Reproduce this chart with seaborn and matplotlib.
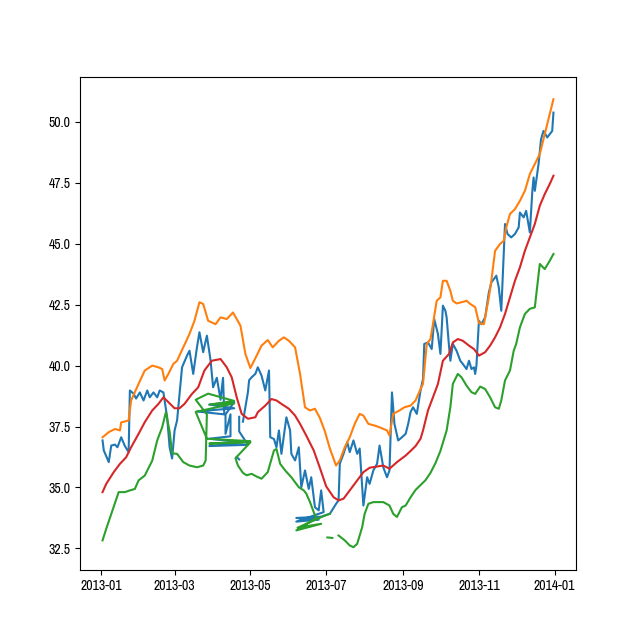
import numpy as np
import pandas as pd
import matplotlib
matplotlib.use("Agg")
import matplotlib.pyplot as plt
import matplotlib.dates as mdates
import seaborn as sns
from matplotlib import font_manager

# ---- font: the reference uses a narrow sans; pick the narrowest installed ----
def _narrow_font():
    rank = {"ultra-condensed": 0, "extra-condensed": 1, "condensed": 2, "semi-condensed": 3}
    best = None
    for f in font_manager.fontManager.ttflist:
        if f.style != "normal":
            continue
        w = f.weight if isinstance(f.weight, int) else 400
        if w not in (400, "normal", "regular") and w != 400:
            continue
        if "Narrow" in f.name:
            r = 0.5
        elif "Condensed" in f.name:
            r = 2
        elif str(f.stretch) in rank:
            r = rank[str(f.stretch)]
        else:
            continue
        if best is None or r < best[0]:
            best = (r, f.fname)
    return best[1] if best else None

_nf = _narrow_font()
tick_font = font_manager.FontProperties(fname=_nf, size=10) if _nf else \
    font_manager.FontProperties(family="DejaVu Sans", size=10)

START = "2013-01-01"

# ---- closing price (days after 2013-01-01, value); NaN marks a gap ----
price_day = [1, 2, 6, 8, 11, 13, 16, 19, 22, 23, 26, 28, 31, 34, 37, 39, 42, 45, 47, 50,
             53, 55, 57, 59, 61, 65, 69, 71, 74, 77, 79, 82, 85, 88, 90, 93, 96, 98, 99,
             77, 107, 87, 107, 100, 100, 104, 104, 87, 114, 87, 118, 111, 111,
             111, 109, 111, 111,
             114, 118, 119, 121, 124, 126, 129, 132, 135, 136, 139, 141, 143, 145, 149, 152,
             153, 156, 159, 161, 164, 167, 169, 172, 175, 177, 179,
             157, 175, 157, 177,
             184, 189, 191, 192, 195, 198, 200, 203, 206, 208, 211, 214, 216, 219, 222, 224,
             227, 230, 232, 234, 236, 239, 242, 245, 247, 249, 251, 254, 257, 259, 260, 263,
             266, 268, 271, 273, 275, 277, 278, 280, 281, 283, 286, 289, 291, 294, 296, 298,
             300, 301, 302, 304, 306, 309, 312, 314, 318, 320, 322, 325, 327, 330, 333, 336,
             337, 340, 342, 345, 347, 348, 349, 352, 354, 356, 359, 362, 363, 364]
price_val = [36.93, 36.52, 36.04, 36.72, 36.76, 36.65, 37.06, 36.70, 36.45, 38.98, 38.85, 38.65,
             38.90, 38.57, 38.98, 38.70, 38.90, 38.70, 38.98, 38.90,
             37.88, 36.65, 36.19, 37.34, 37.75, 39.93, 40.41, 40.61, 39.66, 40.75, 41.37, 40.55,
             41.23, 40.20, 39.11, 39.50, 38.60, 39.50, 38.00,
             38.12, 38.25, 38.40, 38.50, 38.00, 37.20, 38.00, 37.10, 37.00, 36.85, 36.70, 36.75,
             37.30, 37.90,
             np.nan, 36.25, 36.15, np.nan,
             37.70, 38.90, 39.40, 39.52, 39.66, 39.93, 39.59, 38.98, 39.80, 37.06, 36.99, 36.65,
             37.34, 36.38, 37.88, 37.34,
             36.38, 36.11, 36.65, 35.01, 35.70, 34.94, 35.42, 34.19, 34.06, 34.88, 33.99,
             33.60, 33.68, 33.75, 33.80,
             33.92, 34.33, 34.47, 35.97, 36.38, 36.86, 36.45, 36.93, 36.38, 36.60, 34.26, 35.42,
             35.15, 35.70, 35.97, 36.72,
             35.83, 35.42, 35.70, 38.90, 37.61, 36.93, 37.06, 37.20, 37.60, 38.10, 38.29, 38.02,
             38.98, 39.46, 40.89, 40.95,
             40.68, 41.91, 41.30, 40.48, 42.46, 42.25, 41.98, 40.75, 40.20, 40.89, 40.61, 40.20,
             40.07, 39.86, 40.20, 39.86,
             39.93, 39.66, 40.00, 41.84, 41.70, 41.98, 43.00, 43.41, 43.69, 43.21, 42.25, 45.81,
             45.40, 45.26, 45.40, 45.67,
             46.28, 46.08, 46.35, 45.46, 47.17, 47.72, 47.17, 48.27, 49.29, 49.63, 49.36, 49.56,
             49.63, 50.38]

# ---- upper band ----
upper_day = [1, 6, 11, 15, 16, 22, 24, 30, 35, 41, 46, 49, 51, 54, 58, 61, 66, 71, 75, 79,
             82, 86, 92, 96, 101, 106, 112, 116, 120, 124, 129, 134, 138, 143, 147, 151, 156,
             160, 164, 168, 172, 176, 180, 184, 189, 192, 196, 200, 204, 208, 211, 215, 220,
             224, 230, 232, 235, 240, 244, 249, 253, 257, 259, 262, 265, 267, 270, 273, 275,
             278, 281, 283, 286, 290, 294, 297, 301, 304, 308, 312, 314, 317, 321, 324, 326,
             329, 333, 337, 341, 345, 349, 353, 357, 361, 364]
upper_val = [37.06, 37.27, 37.40, 37.34, 37.67, 37.75, 38.57, 39.25, 39.80, 40.00, 39.93,
             39.86, 39.39, 39.66, 40.07, 40.20, 40.75, 41.30, 41.84, 42.60,
             42.53, 41.84, 41.70, 41.98, 41.91, 42.18, 41.64, 40.48, 39.90, 40.30, 40.82, 41.05,
             40.75, 41.02, 41.16, 41.02, 40.75,
             39.66, 38.29, 38.16, 38.23, 37.85, 37.30, 36.60, 35.90, 36.11, 36.65, 37.06, 37.61,
             38.02, 37.95, 37.61, 37.54,
             37.47, 37.34, 37.13, 38.02, 38.16, 38.29, 38.36, 38.57, 39.04, 39.25, 40.89, 41.09,
             41.70, 42.66, 42.80, 43.48,
             43.48, 43.07, 42.66, 42.55, 42.60, 42.66, 42.53, 42.40, 41.75, 41.70, 42.80, 43.48,
             44.71, 44.99, 45.12, 45.67,
             46.22, 46.42, 46.76, 47.17, 47.86, 48.27, 48.68, 49.50, 50.32, 50.93]

# ---- lower band (NaN marks a gap) ----
lower_day = [1, 4, 9, 14, 19, 23, 27, 30, 35, 41, 45, 49, 52, 55, 57, 61, 66, 71, 77, 82,
             84, 85, 76, 86, 107, 87, 107, 76, 85, 120, 87, 120, 108, 110, 114, 117, 121,
             125, 129, 134, 139, 141, 144, 148, 153, 159, 163, 165, 168, 171, 173,
             157, 177, 158, 180, 184,
             184, 182, 186, 186,
             191, 196, 200, 203, 206, 210, 212, 215, 219, 227, 232, 235, 238, 242, 245, 249,
             253, 257, 261, 265, 269, 273, 278, 281, 283, 287, 290, 294, 298, 301, 305, 309,
             313, 317, 320, 322, 325, 329, 332, 334, 337, 341, 345, 349, 353, 357, 361, 364]
lower_val = [32.83, 33.31, 34.06, 34.81, 34.81, 34.88, 34.94, 35.29, 35.49, 36.10, 36.93,
             37.47, 38.09, 37.30, 36.40, 36.38, 36.04, 35.90, 35.83, 35.90,
             36.10, 38.00, 38.60, 38.85, 38.55, 38.40, 38.45, 38.10, 37.00, 36.90, 36.80, 36.85,
             36.20, 35.90, 35.60, 35.50, 35.56,
             35.45, 35.36, 35.63, 36.52, 36.58, 35.97, 35.70, 35.42, 35.01, 34.88, 34.75, 34.40,
             33.99, 33.75,
             33.24, 33.51, 33.35, 33.85, 33.92,
             np.nan, 32.95, 32.93, np.nan,
             33.03, 32.83, 32.62, 32.55, 32.69, 33.37, 33.92, 34.33, 34.40, 34.40, 34.26, 33.92,
             33.79, 34.19, 34.26, 34.60,
             34.90, 35.10, 35.30, 35.60, 36.00, 36.50, 37.34, 38.29, 39.25, 39.66, 39.52, 39.18,
             38.91, 38.84, 39.14, 39.04,
             38.70, 38.29, 38.23, 38.57, 39.39, 39.80, 40.61, 40.89, 41.57, 42.12, 42.33, 42.39,
             44.17, 43.96, 44.30, 44.58]

# ---- moving average ----
ma_day = [1, 4, 10, 15, 20, 24, 30, 35, 41, 46, 50, 54, 59, 63, 67, 73, 78, 83, 89, 96,
          101, 105, 109, 113, 118, 124, 126, 132, 137, 141, 145, 151, 156, 160, 165, 171,
          176, 181, 187, 191, 195, 200, 206, 211, 216, 222, 227, 232, 238, 245, 249, 253,
          257, 259, 263, 267, 271, 275, 280, 283, 287, 291, 296, 300, 304, 309, 313, 317,
          321, 325, 329, 333, 337, 341, 345, 349, 353, 357, 361, 364]
ma_val = [34.81, 35.15, 35.63, 35.97, 36.24, 36.65, 37.20, 37.68, 38.16, 38.43, 38.70, 38.50,
          38.25, 38.25, 38.43, 38.84, 39.11, 39.80, 40.20, 40.27,
          39.93, 39.52, 38.70, 38.02, 37.82, 37.88, 38.09, 38.36, 38.63, 38.57, 38.43, 38.23,
          37.95, 37.61, 37.13, 36.52,
          35.80, 35.05, 34.60, 34.47, 34.54, 34.88, 35.29, 35.63, 35.81, 35.86, 35.90, 35.77,
          36.04, 36.31, 36.50, 36.70,
          37.00, 37.34, 38.16, 38.70, 39.25, 40.20, 40.48, 40.95, 41.09, 41.02, 40.82, 40.68,
          40.41, 40.55, 40.82, 41.16,
          41.57, 42.12, 42.80, 43.48, 44.03, 44.71, 45.26, 45.81, 46.56, 47.04, 47.45, 47.79]


def frame(days, vals):
    v = np.asarray(vals, dtype=float)
    df = pd.DataFrame({
        "date": pd.Timestamp(START) + pd.to_timedelta(np.asarray(days), unit="D"),
        "value": v,
        "seg": np.cumsum(np.isnan(v)),
    })
    return df.dropna().reset_index(drop=True)


fig, ax = plt.subplots(figsize=(6.4, 6.4), dpi=100)

series = [(price_day, price_val, "C0"),
          (upper_day, upper_val, "C1"),
          (lower_day, lower_val, "C2"),
          (ma_day, ma_val, "C3")]
for days, vals, col in series:
    sns.lineplot(data=frame(days, vals), x="date", y="value", units="seg",
                 estimator=None, sort=False, color=col, linewidth=1.5, ax=ax)

ax.xaxis.set_major_locator(mdates.MonthLocator(bymonth=[1, 3, 5, 7, 9, 11]))
ax.xaxis.set_major_formatter(mdates.DateFormatter("%Y-%m"))
ax.set_xlabel("")
ax.set_ylabel("")

fig.canvas.draw()
for lab in ax.get_xticklabels() + ax.get_yticklabels():
    lab.set_fontproperties(tick_font)

fig.savefig("out.png", dpi=100)
